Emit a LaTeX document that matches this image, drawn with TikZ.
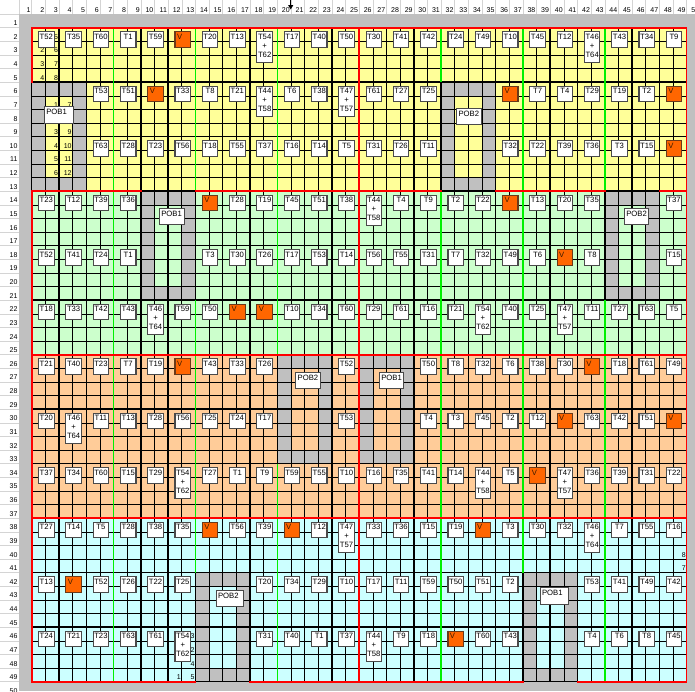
\documentclass[tikz,border=0pt]{standalone}
\usepackage{fontspec}
\setmainfont{Liberation Sans}
\usetikzlibrary{arrows.meta}
\definecolor{zy}{HTML}{FFFF99}
\definecolor{zg}{HTML}{CCFFCC}
\definecolor{zo}{HTML}{FFCC99}
\definecolor{zc}{HTML}{CCFFFF}
\definecolor{cg}{HTML}{C0C0C0}
\definecolor{cV}{HTML}{FF6600}
\definecolor{vbd}{HTML}{6A3A1A}
\definecolor{vtx}{HTML}{3A1A00}
\definecolor{cGreen}{HTML}{00F000}
\definecolor{cRed}{HTML}{FF0000}
\definecolor{hdr}{HTML}{D4D4D4}
\definecolor{bxb}{HTML}{4A4A4A}
\newcommand\lblfont{\fontsize{7.7}{9}\selectfont}
\newcommand\numfont{\fontsize{7}{8}\selectfont}
\def\xo{31.7}\def\yo{27.7}\def\sx{13.645}\def\sy{13.625}
\def\skipm{x}\def\vm{V}
\tikzset{
 gthin/.style={line width=0.6pt, draw=black},
 gthick/.style={line width=1.5pt, draw=black},
 gred/.style={line width=1.6pt, draw=cRed, line cap=rect},
 ggreen/.style={line width=1.6pt, draw=cGreen},
 hline/.style={line width=0.5pt, draw=hdr},
 tbox/.style={draw=bxb, fill=white, line width=1.1pt, minimum width=15.5pt, minimum height=15.5pt, inner sep=0pt, outer sep=0pt, anchor=north},
 tlab/.style={anchor=north, inner sep=0pt, font=\lblfont, yshift=-2.2pt},
 vbox/.style={draw=vbd, fill=cV, line width=1.1pt, minimum width=15.5pt, minimum height=15.5pt, inner sep=0pt, outer sep=0pt, anchor=north},
 vlab/.style={anchor=north west, inner sep=0pt, font=\lblfont, xshift=1.8pt, yshift=-2.2pt, text=vtx},
 pobbox/.style={draw=bxb, fill=white, line width=0.9pt, minimum height=16.5pt, inner sep=0pt, outer sep=0pt, anchor=north west},
 poblab/.style={anchor=north west, inner sep=0pt, font=\lblfont, xshift=1.8pt, yshift=-2.6pt},
 num/.style={anchor=base east, inner sep=0pt, font=\numfont},
}
\newcommand\mkrow[2]{%
  \foreach \lab [count=\pp from 0] in {#2}{%
    \edef\tmp{\lab}%
    \pgfmathsetmacro\bx{\xo+(2*\pp+1)*\sx+1}%
    \pgfmathsetmacro\by{\yo+(#1-2)*\sy+4}%
    \ifx\tmp\skipm\else
      \ifx\tmp\vm
        \node[vbox] (v-#1-\pp) at (\bx,\by) {};
        \node[vlab] (vl-#1-\pp) at (v-#1-\pp.north west) {V};
      \else
        \node[tbox] (b-#1-\pp) at (\bx,\by) {};
        \node[tlab] (l-#1-\pp) at (b-#1-\pp.north) {\lab};
      \fi
    \fi
  }}
\newcommand\tallbox[4]{%
  \pgfmathsetmacro\bx{\xo+(2*#2+1)*\sx+1}%
  \pgfmathsetmacro\by{\yo+(#1-2)*\sy+4}%
  \node[tbox,minimum height=30.6pt] (b-#1-#2) at (\bx,\by) {};
  \node[tlab,align=center] (l-#1-#2) at (b-#1-#2.north) {#3\\+\\#4};}
\newcommand\ringcells[2]{%
  \fill[cg] ({\xo+#1*\sx},{\yo+#2*\sy}) rectangle ({\xo+(#1+4)*\sx},{\yo+(#2+1)*\sy});
  \fill[cg] ({\xo+#1*\sx},{\yo+(#2+7)*\sy}) rectangle ({\xo+(#1+4)*\sx},{\yo+(#2+8)*\sy});
  \fill[cg] ({\xo+#1*\sx},{\yo+#2*\sy}) rectangle ({\xo+(#1+1)*\sx},{\yo+(#2+8)*\sy});
  \fill[cg] ({\xo+(#1+3)*\sx},{\yo+#2*\sy}) rectangle ({\xo+(#1+4)*\sx},{\yo+(#2+8)*\sy});}
\newcommand\cnum[3]{%
  \node[num] (cn-#1-#2) at ({\xo+(#1-1)*\sx-0.8},{\yo+(#2-1)*\sy-2}) {#3};}
\newcommand\pob[5]{% name, x, y, width, text
  \node[pobbox,minimum width=#4pt] (#1) at (#2,#3) {};
  \node[poblab] (#1-t) at (#1.north west) {#5};}
\begin{document}
\begin{tikzpicture}[x=1pt,y=-1pt]
\useasboundingbox (0,0) rectangle (695,691);
\fill[white] (0,0) rectangle (695,691);
% header grid
\foreach \c in {1,...,49} \draw[hline] ({\xo+\c*\sx-\sx},0) -- ({\xo+\c*\sx-\sx},14);
\draw[hline] (19,0) -- (19,14);
\foreach \r in {0,...,49} \draw[hline] (0,{\yo+\r*\sy-\sy}) -- (19,{\yo+\r*\sy-\sy});
\foreach \c in {1,...,50} \node[num] (cl-\c) at ({\xo+(\c-1)*\sx-1},12.2) {\c};
\foreach \r in {1,...,50} \node[num] (rl-\r) at (17.6,{\yo+(\r-1)*\sy-2}) {\r};
% gray surround
\fill[cg] (19,14) rectangle (695,691);
% zones
\fill[zy] (\xo,\yo) rectangle ({\xo+48*\sx},{\yo+12*\sy});
\fill[zg] (\xo,{\yo+12*\sy}) rectangle ({\xo+48*\sx},{\yo+24*\sy});
\fill[zo] (\xo,{\yo+24*\sy}) rectangle ({\xo+48*\sx},{\yo+36*\sy});
\fill[zc] (\xo,{\yo+36*\sy}) rectangle ({\xo+48*\sx},{\yo+48*\sy});
% POB rings
\ringcells{0}{4}
\ringcells{30}{4}
\ringcells{8}{12}
\ringcells{42}{12}
\ringcells{18}{24}
\ringcells{24}{24}
\ringcells{12}{40}
\ringcells{36}{40}
% thin grid
\foreach \k in {1,...,47} {
  \draw[gthin] ({\xo+\k*\sx},\yo) -- ({\xo+\k*\sx},{\yo+48*\sy});
  \draw[gthin] (\xo,{\yo+\k*\sy}) -- ({\xo+48*\sx},{\yo+\k*\sy});
}
% thick grid
\foreach \k in {2,4,...,46} \draw[gthick] ({\xo+\k*\sx},\yo) -- ({\xo+\k*\sx},{\yo+48*\sy});
\foreach \k in {4,8,12,16,20,24,28,32,36,40,44} \draw[gthick] (\xo,{\yo+\k*\sy}) -- ({\xo+48*\sx},{\yo+\k*\sy});
\draw[gthick] (\xo,\yo) rectangle ({\xo+48*\sx},{\yo+48*\sy});
% green lines
\foreach \k/\a/\b in {6/0/48, 12/0/12, 12/20/40, 18/0/24, 18/32/48, 30/0/4, 30/12/48, 36/0/40, 42/0/12, 42/20/48}
  \draw[ggreen] ({\xo+\k*\sx},{\yo+\a*\sy}) -- ({\xo+\k*\sx},{\yo+\b*\sy});
% red vertical
\foreach \k/\a/\b in {0/0/4, 0/12/48, 48/0/48, 24/0/48}
  \draw[gred] ({\xo+\k*\sx},{\yo+\a*\sy}) -- ({\xo+\k*\sx},{\yo+\b*\sy});
% red horizontal
\foreach \j/\a/\b in {0/0/48, 48/0/12, 48/16/36, 48/40/48, 12/0/8, 12/12/30, 12/34/42, 12/46/48, 24/0/48, 36/0/48}
  \draw[gred] ({\xo+\a*\sx},{\yo+\j*\sy}) -- ({\xo+\b*\sx},{\yo+\j*\sy});
% small numbers
\cnum{2}{3}{2}\cnum{2}{4}{3}\cnum{2}{5}{4}
\cnum{3}{2}{5}\cnum{3}{3}{6}\cnum{3}{4}{7}\cnum{3}{5}{8}
\cnum{3}{7}{1}\cnum{3}{9}{3}\cnum{3}{10}{4}\cnum{3}{11}{5}\cnum{3}{12}{6}
\cnum{4}{7}{7}\cnum{4}{9}{9}\cnum{4}{10}{10}\cnum{4}{11}{11}\cnum{4}{12}{12}
\cnum{13}{46}{3}\cnum{13}{47}{2}\cnum{13}{48}{4}\cnum{13}{49}{5}\cnum{12}{49}{1}
\cnum{49}{40}{8}\cnum{49}{41}{7}
% boxes
\mkrow{2}{T52,T35,T60,T1,T59,V,T20,T13,x,T17,T40,T50,T30,T41,T42,T24,T49,T10,T45,T12,x,T43,T34,T9}
\mkrow{6}{x,x,T53,T51,V,T33,T8,T21,x,T6,T38,x,T61,T27,T25,x,x,V,T7,T4,T29,T19,T2,V}
\mkrow{10}{x,x,T63,T28,T23,T56,T18,T55,T37,T16,T14,T5,T31,T26,T11,x,x,T32,T22,T39,T36,T3,T15,V}
\mkrow{14}{T23,T12,T39,T36,x,x,V,T28,T19,T45,T51,T38,x,T4,T9,T2,T22,V,T13,T20,T35,x,x,T37}
\mkrow{18}{T52,T41,T24,T1,x,x,T3,T30,T26,T17,T53,T14,T56,T55,T31,T7,T32,T49,T6,V,T8,x,x,T15}
\mkrow{22}{T18,T33,T42,T43,x,T59,T50,V,V,T10,T34,T60,T29,T61,T16,T21,x,T40,T25,x,T11,T27,T63,T5}
\mkrow{26}{T21,T40,T23,T7,T19,V,T43,T33,T26,x,x,T52,x,x,T50,T8,T32,T6,T38,T30,V,T18,T61,T49}
\mkrow{30}{T20,x,T11,T13,T28,T56,T25,T24,T17,x,x,T53,x,x,T4,T3,T45,T2,T12,V,T63,T42,T51,V}
\mkrow{34}{T37,T34,T60,T15,T29,x,T27,T1,T9,T59,T55,T10,T16,T35,T41,T14,x,T5,V,x,T36,T39,T31,T22}
\mkrow{38}{T27,T14,T5,T28,T38,T35,V,T56,T39,V,T12,x,T33,T36,T15,T19,V,T3,T30,T32,x,T7,T55,T16}
\mkrow{42}{T13,V,T52,T26,T22,T25,x,x,T20,T34,T29,T10,T17,T11,T59,T50,T51,T2,x,x,T53,T41,T49,T42}
\mkrow{46}{T24,T21,T23,T63,T61,x,x,x,T31,T40,T1,T37,x,T9,T18,V,T60,T43,x,x,T4,T6,T8,T45}
\tallbox{2}{8}{T54}{T62}\tallbox{2}{20}{T46}{T64}
\tallbox{6}{8}{T44}{T58}\tallbox{6}{11}{T47}{T57}
\tallbox{14}{12}{T44}{T58}
\tallbox{22}{4}{T46}{T64}\tallbox{22}{16}{T54}{T62}\tallbox{22}{19}{T47}{T57}
\tallbox{30}{1}{T46}{T64}
\tallbox{34}{5}{T54}{T62}\tallbox{34}{16}{T44}{T58}\tallbox{34}{19}{T47}{T57}
\tallbox{38}{11}{T47}{T57}\tallbox{38}{20}{T46}{T64}
\tallbox{46}{5}{T54}{T62}\tallbox{46}{12}{T44}{T58}
% POB labels
\pob{py1}{44.3}{106.7}{29}{POB1}
\pob{py2}{456.5}{108}{25}{POB2}
\pob{pg1}{159.3}{208.3}{25}{POB1}
\pob{pg2}{624.3}{208.3}{24.5}{POB2}
\pob{po2}{295.7}{372.3}{25}{POB2}
\pob{po1}{379.3}{372.3}{24.5}{POB1}
\pob{pc2}{216}{590}{27.5}{POB2}
\pob{pc1}{540}{587.7}{28.7}{POB1}
% column marker arrow
\coordinate (mk-top) at (290.7,0);
\coordinate (mk-tip) at (290.7,9.5);
\draw[line width=1pt,-{Triangle[length=4.5pt,width=5pt]}] (mk-top) -- (mk-tip);
\end{tikzpicture}
\end{document}
